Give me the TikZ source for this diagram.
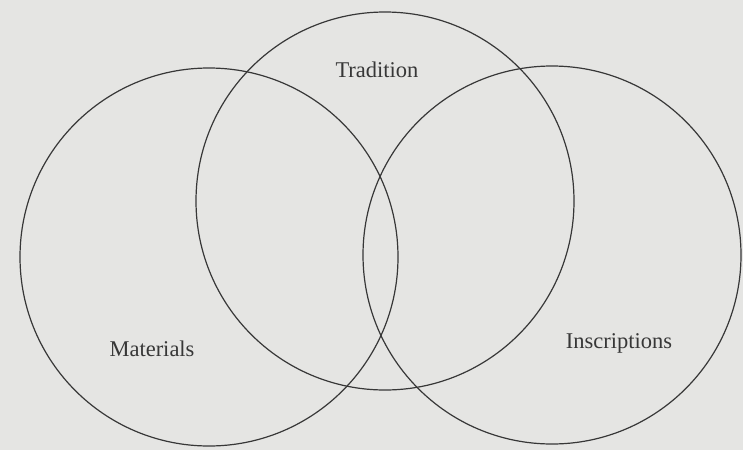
\documentclass[tikz,border=0pt]{standalone}
\usepackage{fontspec}
\setmainfont{Liberation Serif}
\usepackage{tikz}
\definecolor{PageGray}{RGB}{229,229,227}
\definecolor{InkGray}{RGB}{55,55,55}

\begin{document}
\begin{tikzpicture}[x=1pt,y=-1pt,
    ring/.style={draw=InkGray,line width=1.2pt},
    tag/.style={text=InkGray,font=\fontsize{22.5}{27}\selectfont,inner sep=0pt}]
  \fill[PageGray] (0,0) rectangle (743,450);
  \useasboundingbox (0,0) rectangle (743,450);
  % the three sets
  \draw[ring] (209,257) circle [radius=189];
  \draw[ring] (385,201) circle [radius=189];
  \draw[ring] (552,255) circle [radius=189];
  \node[tag] (tradition) at (377,70) {Tradition};
  \node[tag] (materials) at (152,349) {Materials};
  \node[tag] (inscriptions) at (619,343) {Inscriptions};
\end{tikzpicture}
\end{document}
